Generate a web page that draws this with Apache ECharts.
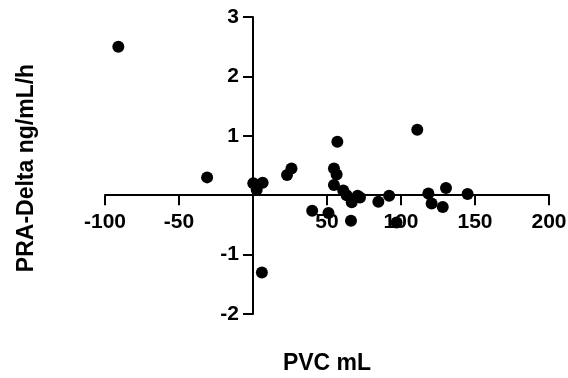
<!DOCTYPE html>
<html>
<head>
<meta charset="utf-8">
<script src="https://cdn.jsdelivr.net/npm/echarts@6/dist/echarts.min.js"></script>
<style>
  html, body {margin: 0; padding: 0; background: #fff;}
  #chart {width: 568px; height: 378px;}
</style>
</head>
<body>
<div id="chart"></div>
<script>
const pvcValues = [-91, -31, 0.2, 6.5, 2.5, 6, 23, 26, 40, 51, 54.7, 56.5, 57, 54.7, 61, 63.3, 66.7, 66.2, 70.7, 72.3, 84.7, 92, 97, 111, 118.5, 120.7, 128.2, 130.4, 145];
const praDeltaValues = [2.5, 0.3, 0.2, 0.21, 0.09, -1.3, 0.34, 0.45, -0.26, -0.3, 0.45, 0.35, 0.9, 0.17, 0.08, 0.0, -0.12, -0.43, -0.01, -0.04, -0.11, -0.01, -0.46, 1.1, 0.03, -0.14, -0.2, 0.12, 0.02];
const xTicks = {min: -100, max: 200, interval: 50};
const yTicks = {min: -2, max: 3, interval: 1};

const font = 'Liberation Sans, Arial, sans-serif';
const grid = {left: 105, right: 19, top: 17, bottom: 64};
const W = 568, H = 378;

// axes cross at the origin: shift each axis from the grid edge onto the zero of the other one
const plotW = W - grid.left - grid.right;
const plotH = H - grid.top - grid.bottom;
const xZeroShift = plotW * (0 - xTicks.min) / (xTicks.max - xTicks.min);
const yZeroShift = plotH * (0 - yTicks.min) / (yTicks.max - yTicks.min);

const chart = echarts.init(document.getElementById('chart'));
const points = pvcValues.map((x, i) => [x, praDeltaValues[i]]);

// the zero label is left out where the axes cross
const hideZero = (v) => (v === 0 ? '' : String(v));

const axisCommon = {
  axisLine: {show: true, onZero: false, lineStyle: {color: '#000', width: 2}},
  axisTick: {show: true, inside: false, length: 10, lineStyle: {color: '#000', width: 2}},
  splitLine: {show: false},
};

chart.setOption({
  animation: false,
  grid: {...grid, containLabel: false, outerBoundsMode: 'none'},
  xAxis: {
    type: 'value',
    position: 'bottom',
    offset: -yZeroShift,
    ...xTicks,
    ...axisCommon,
    axisLabel: {color: '#000', fontFamily: font, fontWeight: 'bold', fontSize: 21, margin: 17, showMinLabel: true, showMaxLabel: true, formatter: hideZero},
  },
  yAxis: {
    type: 'value',
    position: 'left',
    offset: -xZeroShift,
    ...yTicks,
    ...axisCommon,
    axisLabel: {color: '#000', fontFamily: font, fontWeight: 'bold', fontSize: 21, margin: 14, showMinLabel: true, showMaxLabel: true, formatter: hideZero},
  },
  graphic: [
    {
      type: 'text',
      x: 327, y: 364,
      style: {text: 'PVC mL', fill: '#000', font: 'bold 23px ' + font, align: 'center', verticalAlign: 'middle'},
    },
    {
      type: 'text',
      x: 27, y: 168,
      rotation: Math.PI / 2,
      style: {text: 'PRA-Delta ng/mL/h', fill: '#000', font: 'bold 23px ' + font, align: 'center', verticalAlign: 'middle'},
    },
  ],
  series: [
    {
      type: 'scatter',
      data: points,
      symbol: 'circle',
      symbolSize: 12,
      itemStyle: {color: '#000', opacity: 1},
    },
  ],
});
</script>
</body>
</html>
